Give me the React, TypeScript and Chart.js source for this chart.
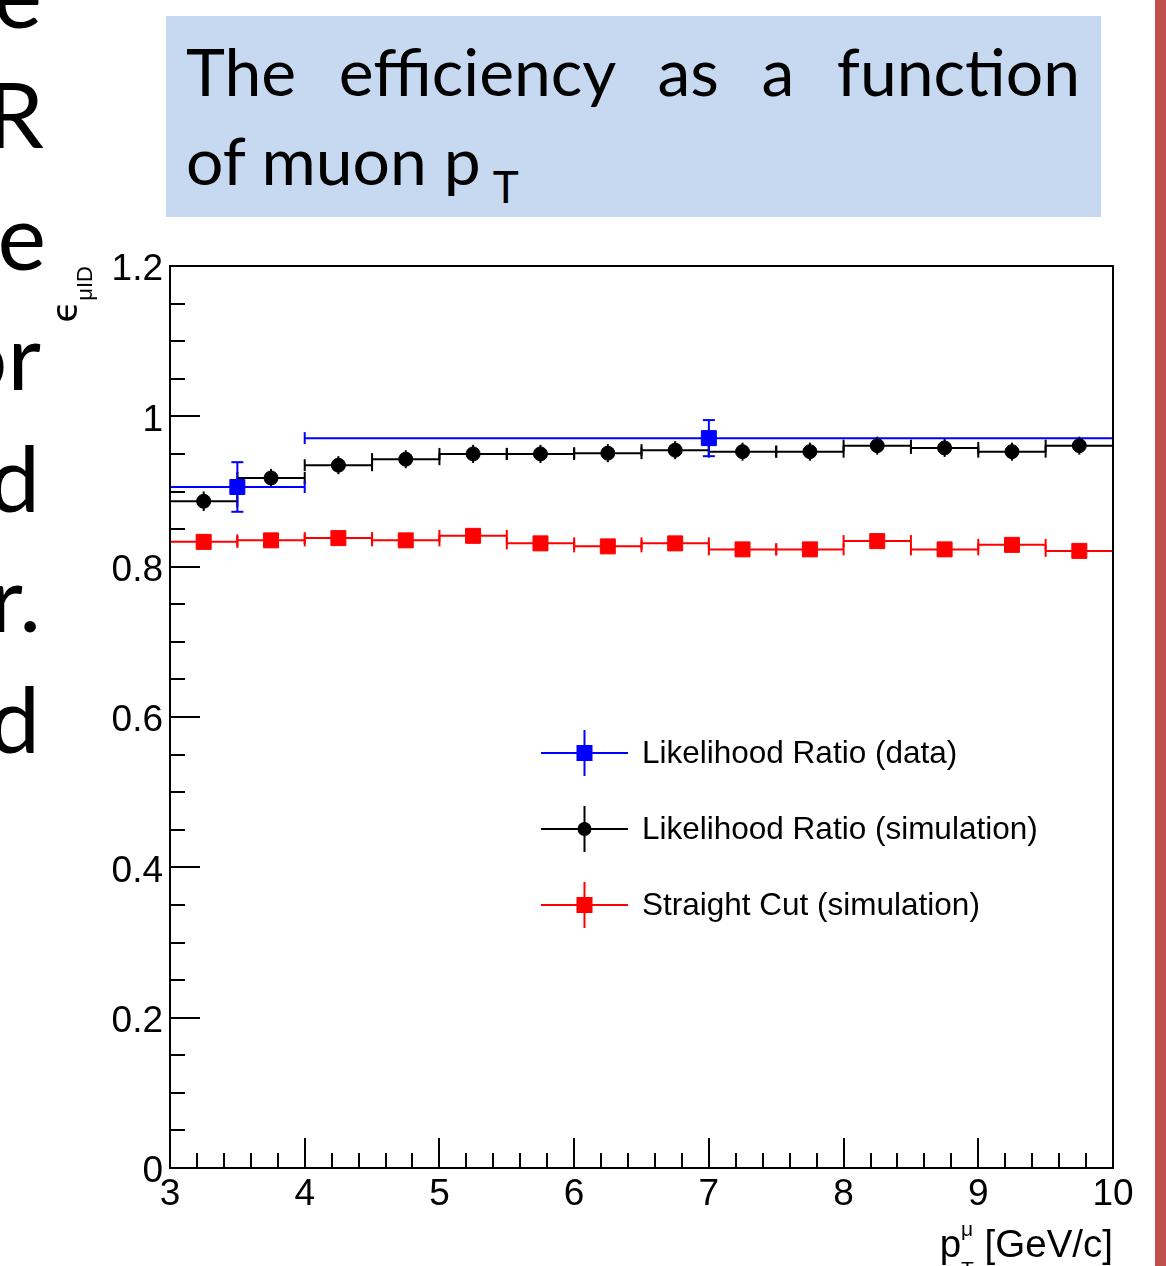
import React, { useEffect, useRef } from "react";
import { Chart, registerables } from "chart.js";

Chart.register(...registerables);

// ---------------- data ----------------
const simBinCenters = [3.25, 3.75, 4.25, 4.75, 5.25, 5.75, 6.25, 6.75, 7.25, 7.75, 8.25, 8.75, 9.25, 9.75];
const simBinLow = [3.0, 3.5, 4.0, 4.5, 5.0, 5.5, 6.0, 6.5, 7.0, 7.5, 8.0, 8.5, 9.0, 9.5];
const simBinHigh = [3.5, 4.0, 4.5, 5.0, 5.5, 6.0, 6.5, 7.0, 7.5, 8.0, 8.5, 9.0, 9.5, 10.0];

const lrSimEff = [0.887, 0.918, 0.935, 0.943, 0.95, 0.95, 0.951, 0.955, 0.953, 0.953, 0.961, 0.958, 0.953, 0.961];
const lrSimErr = [0.013, 0.012, 0.012, 0.012, 0.012, 0.012, 0.012, 0.012, 0.012, 0.012, 0.012, 0.012, 0.012, 0.012];

const scSimEff = [0.833, 0.835, 0.838, 0.835, 0.841, 0.831, 0.827, 0.831, 0.823, 0.823, 0.834, 0.823, 0.829, 0.821];
const scSimErr = [0.008, 0.008, 0.008, 0.008, 0.008, 0.008, 0.008, 0.008, 0.008, 0.008, 0.008, 0.008, 0.008, 0.008];

const dataBinCenters = [3.5, 7.0];
const dataBinLow = [3.0, 4.0];
const dataBinHigh = [4.0, 10.0];
const lrDataEff = [0.906, 0.971];
const lrDataErr = [0.033, 0.024];

const seriesLabels = [
  "Likelihood Ratio (data)",
  "Likelihood Ratio (simulation)",
  "Straight Cut (simulation)",
];

const xTickValues = [3, 4, 5, 6, 7, 8, 9, 10];
const xTickLabels = ["3", "4", "5", "6", "7", "8", "9", "10"];
const yTickValues = [0, 0.2, 0.4, 0.6, 0.8, 1.0, 1.2];
const yTickLabels = ["0", "0.2", "0.4", "0.6", "0.8", "1", "1.2"];

const sideLetters = ["e", "R", "e", "or", "d", "r.", "d"];

// ---------------- styles ----------------
const ROOT_FONT = "'Liberation Sans', Arial, Helvetica, sans-serif";
const BLUE = "#0000ff";
const BLACK = "#000000";
const RED = "#ff0000";

function line(ctx: CanvasRenderingContext2D, x0: number, y0: number, x1: number, y1: number) {
  ctx.beginPath();
  ctx.moveTo(x0, y0);
  ctx.lineTo(x1, y1);
  ctx.stroke();
}

const errorBarPlugin = {
  id: "errorBars",
  beforeDatasetsDraw(chart: any) {
    const ctx: CanvasRenderingContext2D = chart.ctx;
    const xs = chart.scales.x;
    const ys = chart.scales.y;
    ctx.save();
    ctx.lineWidth = 2;
    const dss = chart.data.datasets;
    for (let di = dss.length - 1; di >= 0; di--) {
      const ds = dss[di];
      const eb = ds.errorBars;
      ctx.strokeStyle = ds.borderColor;
      ds.data.forEach((p: any, i: number) => {
        const py = ys.getPixelForValue(p.y);
        const px = xs.getPixelForValue(p.x);
        const x0 = xs.getPixelForValue(eb.low[i]);
        const x1 = xs.getPixelForValue(eb.high[i]);
        line(ctx, x0, py, x1, py);
        const c = 6;
        line(ctx, x0, py - c, x0, py + c);
        line(ctx, x1, py - c, x1, py + c);
        const y0 = ys.getPixelForValue(p.y - eb.err[i]);
        const y1 = ys.getPixelForValue(p.y + eb.err[i]);
        line(ctx, px, y0, px, y1);
        if (eb.vCap) {
          line(ctx, px - c, y0, px + c, y0);
          line(ctx, px - c, y1, px + c, y1);
        }
      });
    }
    ctx.restore();
  },
};

const framePlugin = {
  id: "rootFrame",
  afterDatasetsDraw(chart: any) {
    const ctx: CanvasRenderingContext2D = chart.ctx;
    const a = chart.chartArea;
    const xs = chart.scales.x;
    const ys = chart.scales.y;
    ctx.save();
    ctx.strokeStyle = "#000";
    ctx.lineWidth = 2;
    ctx.strokeRect(a.left, a.top, a.right - a.left, a.bottom - a.top);
    // y axis ticks: major 0.2, minor 0.05
    const yMin = ys.min, yMax = ys.max;
    const nY = Math.round((yMax - yMin) / 0.05);
    for (let i = 0; i <= nY; i++) {
      const v = yMin + i * 0.05;
      const py = Math.round(ys.getPixelForValue(v));
      const len = i % 4 === 0 ? 30 : 15;
      line(ctx, a.left, py, a.left + len, py);
    }
    // x axis ticks: major 1, minor 0.2
    const xMin = xs.min, xMax = xs.max;
    const nX = Math.round((xMax - xMin) / 0.2);
    for (let i = 0; i <= nX; i++) {
      const v = xMin + i * 0.2;
      const px = Math.round(xs.getPixelForValue(v));
      const len = i % 5 === 0 ? 30 : 15;
      line(ctx, px, a.bottom, px, a.bottom - len);
    }
    ctx.restore();
  },
};

const legendPlugin = {
  id: "rootLegend",
  afterDraw(chart: any) {
    const ctx: CanvasRenderingContext2D = chart.ctx;
    const a = chart.chartArea;
    const x0 = a.left + 371;
    const x1 = a.left + 458;
    const xm = (x0 + x1) / 2;
    const tx = a.left + 472;
    const rows = [a.top + 487, a.top + 563, a.top + 639];
    ctx.save();
    chart.data.datasets.forEach((ds: any, i: number) => {
      const y = rows[i];
      ctx.strokeStyle = ds.borderColor;
      ctx.fillStyle = ds.backgroundColor;
      ctx.lineWidth = 2;
      line(ctx, x0, y, x1, y);
      line(ctx, xm, y - 23, xm, y + 23);
      if (ds.pointStyle === "circle") {
        ctx.beginPath();
        ctx.arc(xm, y, 7, 0, Math.PI * 2);
        ctx.fill();
      } else {
        ctx.fillRect(xm - 8, y - 8, 16, 16);
      }
      ctx.fillStyle = "#000";
      ctx.font = `31.5px ${ROOT_FONT}`;
      ctx.textBaseline = "middle";
      ctx.textAlign = "left";
      ctx.fillText(ds.label, tx, y + 1);
    });
    ctx.restore();
  },
};

const axisTitlePlugin = {
  id: "axisTitles",
  afterDraw(chart: any) {
    const ctx: CanvasRenderingContext2D = chart.ctx;
    const a = chart.chartArea;
    ctx.save();
    ctx.fillStyle = "#000";
    ctx.textBaseline = "alphabetic";
    ctx.textAlign = "left";
    // Y title: epsilon_{muID}, rotated, right-aligned to top of axis
    const epsFont = `36px 'DejaVu Sans', ${ROOT_FONT}`;
    const subFont = `22px ${ROOT_FONT}`;
    ctx.font = epsFont;
    const wEps = ctx.measureText("\u03f5").width;
    ctx.font = subFont;
    const wSub = ctx.measureText("\u03bcID").width;
    const total = wEps + wSub;
    ctx.translate(a.left - 93, a.top + total);
    ctx.rotate(-Math.PI / 2);
    ctx.font = epsFont;
    ctx.fillText("\u03f5", 0, 0);
    ctx.font = subFont;
    ctx.fillText("\u03bcID", wEps, 15);
    ctx.setTransform(1, 0, 0, 1, 0, 0);
    // X title: p_T^mu [GeV/c], right-aligned at axis end
    const mainFont = `38.5px ${ROOT_FONT}`;
    const smallFont = `21px ${ROOT_FONT}`;
    ctx.font = mainFont;
    const wP = ctx.measureText("p").width;
    const rest = " [GeV/c]";
    const wRest = ctx.measureText(rest).width;
    ctx.font = smallFont;
    const wS = Math.max(ctx.measureText("\u03bc").width, ctx.measureText("T").width);
    const start = a.right - (wP + wS + wRest);
    const base = a.bottom + 89;
    ctx.font = mainFont;
    ctx.fillText("p", start, base);
    ctx.font = smallFont;
    ctx.fillText("\u03bc", start + wP, base - 21);
    ctx.fillText("T", start + wP, base + 19);
    ctx.font = mainFont;
    ctx.fillText(rest, start + wP + wS, base);
    ctx.restore();
  },
};

function ChartCanvas() {
  const ref = useRef<HTMLCanvasElement | null>(null);
  useEffect(() => {
    const canvas = ref.current!;
    const chart = new Chart(canvas, {
      type: "scatter",
      data: {
        datasets: [
          {
            label: seriesLabels[0],
            data: dataBinCenters.map((x, i) => ({ x, y: lrDataEff[i] })),
            borderColor: BLUE,
            backgroundColor: BLUE,
            pointStyle: "rect",
            pointRadius: 10.6,
            pointBorderWidth: 1,
            errorBars: { low: dataBinLow, high: dataBinHigh, err: lrDataErr, vCap: true },
          } as any,
          {
            label: seriesLabels[1],
            data: simBinCenters.map((x, i) => ({ x, y: lrSimEff[i] })),
            borderColor: BLACK,
            backgroundColor: BLACK,
            pointStyle: "circle",
            pointRadius: 7,
            pointBorderWidth: 1,
            errorBars: { low: simBinLow, high: simBinHigh, err: lrSimErr, vCap: false },
          } as any,
          {
            label: seriesLabels[2],
            data: simBinCenters.map((x, i) => ({ x, y: scSimEff[i] })),
            borderColor: RED,
            backgroundColor: RED,
            pointStyle: "rect",
            pointRadius: 10.6,
            pointBorderWidth: 1,
            errorBars: { low: simBinLow, high: simBinHigh, err: scSimErr, vCap: false },
          } as any,
        ],
      },
      options: {
        responsive: false,
        animation: false,
        devicePixelRatio: 1,
        events: [],
        layout: { padding: { left: 0, top: 266, right: 53, bottom: 0 } },
        plugins: {
          legend: { display: false },
          tooltip: { enabled: false },
          title: { display: false },
        },
        scales: {
          x: {
            type: "linear",
            min: 3,
            max: 10,
            grid: { display: false, drawTicks: false },
            border: { display: false },
            afterBuildTicks: (s: any) => {
              s.ticks = xTickValues.map((v) => ({ value: v }));
            },
            afterFit: (s: any) => {
              s.height = 98;
            },
            ticks: {
              autoSkip: false,
              maxRotation: 0,
              padding: 5,
              color: "#000",
              font: { family: ROOT_FONT, size: 37 },
              callback: (_v: any, i: number) => xTickLabels[i],
            },
          },
          y: {
            type: "linear",
            min: 0,
            max: 1.2,
            grid: { display: false, drawTicks: false },
            border: { display: false },
            afterBuildTicks: (s: any) => {
              s.ticks = yTickValues.map((v) => ({ value: v }));
            },
            afterFit: (s: any) => {
              s.width = 170;
            },
            ticks: {
              autoSkip: false,
              padding: 7,
              labelOffset: 4,
              color: "#000",
              font: { family: ROOT_FONT, size: 37 },
              callback: (_v: any, i: number) => yTickLabels[i],
            },
          },
        },
      },
      plugins: [errorBarPlugin, framePlugin, legendPlugin, axisTitlePlugin],
    });
    return () => chart.destroy();
  }, []);
  return (
    <canvas
      ref={ref}
      width={1166}
      height={1266}
      style={{ position: "absolute", left: 0, top: 0, width: 1166, height: 1266 }}
    />
  );
}

export default function App() {
  const letterBaselines = [28, 148, 270, 390, 512, 632, 753];
  const letterRight = [42, 44, 46, 41, 40, 41, 40];
  return (
    <div
      style={{
        position: "absolute",
        left: 0,
        top: 0,
        width: 1166,
        height: 1266,
        overflow: "hidden",
        background: "#ffffff",
      }}
    >
      <svg
        width={1166}
        height={1266}
        style={{ position: "absolute", left: 0, top: 0 }}
      >
        {sideLetters.map((t, i) => (
          <text
            key={i}
            x={letterRight[i]}
            y={letterBaselines[i]}
            textAnchor="end"
            fontFamily="Lato, 'Open Sans', sans-serif"
            fontSize={92}
            fill="#000"
          >
            {t}
          </text>
        ))}
      </svg>
      <div
        style={{
          position: "absolute",
          left: 166,
          top: 16,
          width: 935,
          height: 201,
          background: "#c6d9f1",
        }}
      />
      <div
        style={{
          position: "absolute",
          left: 186,
          top: 26,
          width: 894,
          fontFamily: "Lato, sans-serif",
          fontSize: 66,
          lineHeight: "89px",
          color: "#000",
        }}
      >
        <div style={{ textAlign: "justify", textAlignLast: "justify" as any }}>The efficiency as a function</div>
        <div style={{ textAlign: "left" }}>
          of muon p
          <span style={{ fontSize: 44, verticalAlign: "-18px", lineHeight: "1", marginLeft: 12 }}>T</span>
        </div>
      </div>
      <div
        style={{
          position: "absolute",
          left: 1155,
          top: 0,
          width: 11,
          height: 1266,
          background: "#c0504d",
        }}
      />
      <ChartCanvas />
    </div>
  );
}
